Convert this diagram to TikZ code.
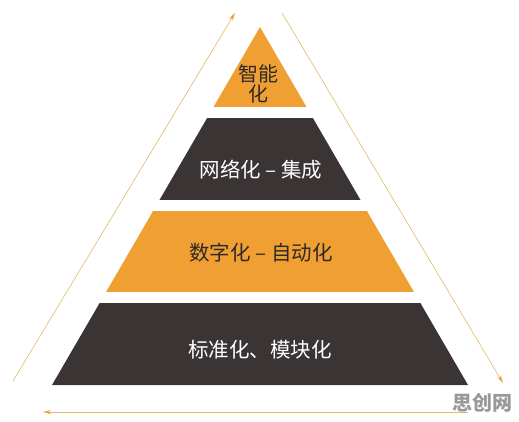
\documentclass[tikz,border=0pt]{standalone}
\usepackage{fontspec}
\setmainfont{Noto Sans CJK SC}
\usetikzlibrary{arrows.meta}
\definecolor{pyrorange}{HTML}{F0A032}
\definecolor{pyrdark}{HTML}{3A3435}
\definecolor{arrowgold}{HTML}{E3B766}
\definecolor{darktext}{HTML}{2E2828}

\begin{document}
\begin{tikzpicture}[x=1pt,y=-1pt,
        trend/.style={draw=arrowgold,line width=0.6pt,-{Stealth[length=8pt,width=4pt,color=pyrorange,fill=pyrorange]}},
        onorange/.style={text=darktext,align=center},
        ondark/.style={text=white,align=center}]
        \tikzstyle{every node}=[font=\fontsize{20.5}{20}\selectfont,inner sep=0pt]
        \useasboundingbox (0,0) rectangle (519,421);
        % pyramid outline
        \coordinate (apex) at (260,27);
        \coordinate (baseL) at (52,385);
        \coordinate (baseR) at (468,385);
        \begin{scope}
            \clip (apex) -- (baseL) -- (baseR) -- cycle;
            \fill[pyrorange] (0,0) rectangle (519,107);
            \fill[pyrdark] (0,118) rectangle (519,200);
            \fill[pyrorange] (0,211) rectangle (519,292);
            \fill[pyrdark] (0,303) rectangle (519,386);
        \end{scope}
        % layer labels
        \node[onorange,font=\fontsize{20}{20.5}\selectfont] (smart) at (258,84) {智能\\化};
        \node[ondark] (network) at (261,170) {网络化 – 集成};
        \node[onorange] (digital) at (261,253) {数字化 – 自动化};
        \node[ondark] (standard) at (260,350) {标准化、模块化};
        % arrows round the pyramid
        \coordinate (upStart) at (13,381);
        \coordinate (upEnd) at (235,13);
        \coordinate (downStart) at (282,13);
        \coordinate (downEnd) at (503,383);
        \coordinate (backStart) at (468,412);
        \coordinate (backEnd) at (43,412);
        \draw[trend] (upStart) -- (upEnd);
        \draw[trend] (downStart) -- (downEnd);
        \draw[trend] (backStart) -- (backEnd);
        \node[text=gray!80,font=\fontsize{20}{20}\selectfont\bfseries] (mark) at (482,403) {思创网};
    \end{tikzpicture}
\end{document}
